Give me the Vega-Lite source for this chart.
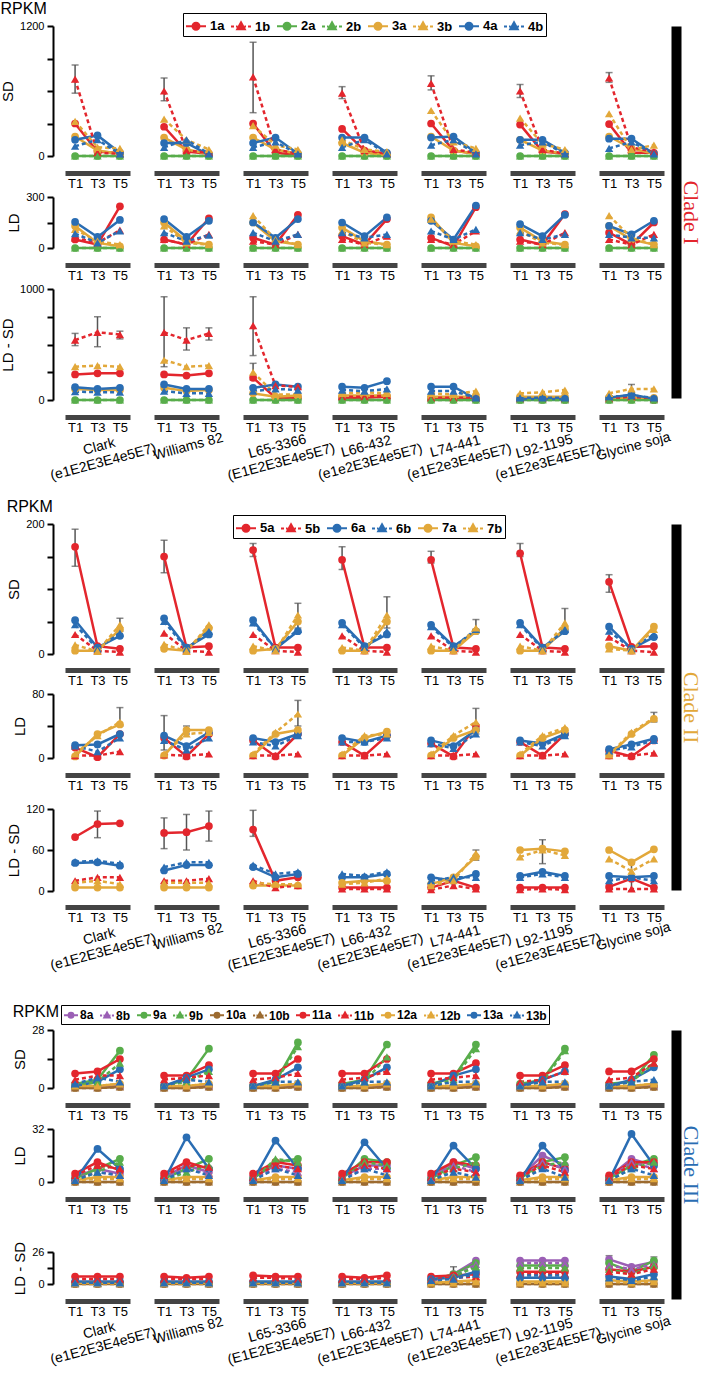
{
"$schema":"https://vega.github.io/schema/vega-lite/v6.json",
"padding":{"top":0,"left":0,"right":0,"bottom":0},
"datasets":{
"c1":[
{"m":"SD","g":1,"s":"1a","T1":300,"T3":40,"T5":30},{"m":"SD","g":1,"s":"1b","T1":710,"T3":30,"T5":20},{"m":"SD","g":1,"s":"2a","T1":0,"T3":0,"T5":0},{"m":"SD","g":1,"s":"2b","T1":0,"T3":0,"T5":0},{"m":"SD","g":1,"s":"3a","T1":180,"T3":50,"T5":20},{"m":"SD","g":1,"s":"3b","T1":320,"T3":80,"T5":70},{"m":"SD","g":1,"s":"4a","T1":150,"T3":190,"T5":30},{"m":"SD","g":1,"s":"4b","T1":90,"T3":150,"T5":20},
{"m":"SD","g":2,"s":"1a","T1":270,"T3":40,"T5":20},{"m":"SD","g":2,"s":"1b","T1":600,"T3":50,"T5":30},{"m":"SD","g":2,"s":"2a","T1":0,"T3":0,"T5":0},{"m":"SD","g":2,"s":"2b","T1":0,"T3":0,"T5":0},{"m":"SD","g":2,"s":"3a","T1":170,"T3":60,"T5":20},{"m":"SD","g":2,"s":"3b","T1":340,"T3":150,"T5":60},{"m":"SD","g":2,"s":"4a","T1":120,"T3":120,"T5":10},{"m":"SD","g":2,"s":"4b","T1":80,"T3":150,"T5":20},
{"m":"SD","g":3,"s":"1a","T1":300,"T3":30,"T5":10},{"m":"SD","g":3,"s":"1b","T1":730,"T3":60,"T5":20},{"m":"SD","g":3,"s":"2a","T1":0,"T3":0,"T5":0},{"m":"SD","g":3,"s":"2b","T1":0,"T3":0,"T5":0},{"m":"SD","g":3,"s":"3a","T1":170,"T3":60,"T5":20},{"m":"SD","g":3,"s":"3b","T1":280,"T3":100,"T5":60},{"m":"SD","g":3,"s":"4a","T1":120,"T3":170,"T5":20},{"m":"SD","g":3,"s":"4b","T1":80,"T3":130,"T5":20},
{"m":"SD","g":4,"s":"1a","T1":250,"T3":50,"T5":20},{"m":"SD","g":4,"s":"1b","T1":580,"T3":50,"T5":20},{"m":"SD","g":4,"s":"2a","T1":0,"T3":0,"T5":0},{"m":"SD","g":4,"s":"2b","T1":0,"T3":0,"T5":0},{"m":"SD","g":4,"s":"3a","T1":120,"T3":30,"T5":10},{"m":"SD","g":4,"s":"3b","T1":150,"T3":60,"T5":40},{"m":"SD","g":4,"s":"4a","T1":170,"T3":170,"T5":30},{"m":"SD","g":4,"s":"4b","T1":80,"T3":150,"T5":20},
{"m":"SD","g":5,"s":"1a","T1":300,"T3":50,"T5":20},{"m":"SD","g":5,"s":"1b","T1":670,"T3":60,"T5":30},{"m":"SD","g":5,"s":"2a","T1":0,"T3":0,"T5":0},{"m":"SD","g":5,"s":"2b","T1":0,"T3":0,"T5":0},{"m":"SD","g":5,"s":"3a","T1":180,"T3":50,"T5":20},{"m":"SD","g":5,"s":"3b","T1":420,"T3":130,"T5":70},{"m":"SD","g":5,"s":"4a","T1":170,"T3":180,"T5":30},{"m":"SD","g":5,"s":"4b","T1":100,"T3":150,"T5":20},
{"m":"SD","g":6,"s":"1a","T1":290,"T3":40,"T5":20},{"m":"SD","g":6,"s":"1b","T1":600,"T3":60,"T5":20},{"m":"SD","g":6,"s":"2a","T1":0,"T3":0,"T5":0},{"m":"SD","g":6,"s":"2b","T1":0,"T3":0,"T5":0},{"m":"SD","g":6,"s":"3a","T1":150,"T3":50,"T5":20},{"m":"SD","g":6,"s":"3b","T1":350,"T3":110,"T5":60},{"m":"SD","g":6,"s":"4a","T1":150,"T3":150,"T5":30},{"m":"SD","g":6,"s":"4b","T1":100,"T3":130,"T5":20},
{"m":"SD","g":7,"s":"1a","T1":295,"T3":30,"T5":30},{"m":"SD","g":7,"s":"1b","T1":720,"T3":80,"T5":40},{"m":"SD","g":7,"s":"2a","T1":0,"T3":0,"T5":0},{"m":"SD","g":7,"s":"2b","T1":0,"T3":0,"T5":0},{"m":"SD","g":7,"s":"3a","T1":180,"T3":70,"T5":20},{"m":"SD","g":7,"s":"3b","T1":390,"T3":60,"T5":100},{"m":"SD","g":7,"s":"4a","T1":160,"T3":160,"T5":20},{"m":"SD","g":7,"s":"4b","T1":70,"T3":130,"T5":20},
{"m":"LD","g":1,"s":"1a","T1":50,"T3":20,"T5":245},{"m":"LD","g":1,"s":"1b","T1":60,"T3":30,"T5":105},{"m":"LD","g":1,"s":"2a","T1":0,"T3":0,"T5":0},{"m":"LD","g":1,"s":"2b","T1":0,"T3":0,"T5":0},{"m":"LD","g":1,"s":"3a","T1":130,"T3":30,"T5":10},{"m":"LD","g":1,"s":"3b","T1":110,"T3":40,"T5":20},{"m":"LD","g":1,"s":"4a","T1":153,"T3":65,"T5":165},{"m":"LD","g":1,"s":"4b","T1":85,"T3":30,"T5":100},
{"m":"LD","g":2,"s":"1a","T1":50,"T3":20,"T5":175},{"m":"LD","g":2,"s":"1b","T1":50,"T3":20,"T5":80},{"m":"LD","g":2,"s":"2a","T1":0,"T3":0,"T5":0},{"m":"LD","g":2,"s":"2b","T1":0,"T3":0,"T5":0},{"m":"LD","g":2,"s":"3a","T1":150,"T3":40,"T5":20},{"m":"LD","g":2,"s":"3b","T1":130,"T3":30,"T5":20},{"m":"LD","g":2,"s":"4a","T1":170,"T3":65,"T5":160},{"m":"LD","g":2,"s":"4b","T1":90,"T3":40,"T5":75},
{"m":"LD","g":3,"s":"1a","T1":60,"T3":20,"T5":195},{"m":"LD","g":3,"s":"1b","T1":40,"T3":20,"T5":80},{"m":"LD","g":3,"s":"2a","T1":0,"T3":0,"T5":0},{"m":"LD","g":3,"s":"2b","T1":0,"T3":0,"T5":0},{"m":"LD","g":3,"s":"3a","T1":150,"T3":40,"T5":20},{"m":"LD","g":3,"s":"3b","T1":190,"T3":50,"T5":20},{"m":"LD","g":3,"s":"4a","T1":150,"T3":60,"T5":170},{"m":"LD","g":3,"s":"4b","T1":90,"T3":40,"T5":80},
{"m":"LD","g":4,"s":"1a","T1":70,"T3":20,"T5":170},{"m":"LD","g":4,"s":"1b","T1":50,"T3":20,"T5":70},{"m":"LD","g":4,"s":"2a","T1":0,"T3":0,"T5":0},{"m":"LD","g":4,"s":"2b","T1":0,"T3":0,"T5":0},{"m":"LD","g":4,"s":"3a","T1":120,"T3":40,"T5":20},{"m":"LD","g":4,"s":"3b","T1":100,"T3":30,"T5":20},{"m":"LD","g":4,"s":"4a","T1":150,"T3":70,"T5":180},{"m":"LD","g":4,"s":"4b","T1":90,"T3":60,"T5":80},
{"m":"LD","g":5,"s":"1a","T1":60,"T3":10,"T5":240},{"m":"LD","g":5,"s":"1b","T1":50,"T3":20,"T5":100},{"m":"LD","g":5,"s":"2a","T1":0,"T3":0,"T5":0},{"m":"LD","g":5,"s":"2b","T1":0,"T3":0,"T5":0},{"m":"LD","g":5,"s":"3a","T1":180,"T3":30,"T5":10},{"m":"LD","g":5,"s":"3b","T1":170,"T3":40,"T5":20},{"m":"LD","g":5,"s":"4a","T1":160,"T3":50,"T5":250},{"m":"LD","g":5,"s":"4b","T1":100,"T3":50,"T5":110},
{"m":"LD","g":6,"s":"1a","T1":50,"T3":20,"T5":200},{"m":"LD","g":6,"s":"1b","T1":40,"T3":20,"T5":90},{"m":"LD","g":6,"s":"2a","T1":0,"T3":0,"T5":0},{"m":"LD","g":6,"s":"2b","T1":0,"T3":0,"T5":0},{"m":"LD","g":6,"s":"3a","T1":120,"T3":40,"T5":20},{"m":"LD","g":6,"s":"3b","T1":100,"T3":30,"T5":20},{"m":"LD","g":6,"s":"4a","T1":140,"T3":70,"T5":195},{"m":"LD","g":6,"s":"4b","T1":90,"T3":50,"T5":80},
{"m":"LD","g":7,"s":"1a","T1":90,"T3":20,"T5":150},{"m":"LD","g":7,"s":"1b","T1":50,"T3":20,"T5":80},{"m":"LD","g":7,"s":"2a","T1":0,"T3":0,"T5":0},{"m":"LD","g":7,"s":"2b","T1":0,"T3":0,"T5":0},{"m":"LD","g":7,"s":"3a","T1":130,"T3":50,"T5":20},{"m":"LD","g":7,"s":"3b","T1":190,"T3":60,"T5":20},{"m":"LD","g":7,"s":"4a","T1":130,"T3":80,"T5":160},{"m":"LD","g":7,"s":"4b","T1":80,"T3":60,"T5":60},
{"m":"LDSD","g":1,"s":"1a","T1":230,"T3":240,"T5":240},{"m":"LDSD","g":1,"s":"1b","T1":540,"T3":610,"T5":590},{"m":"LDSD","g":1,"s":"2a","T1":0,"T3":0,"T5":0},{"m":"LDSD","g":1,"s":"2b","T1":0,"T3":0,"T5":0},{"m":"LDSD","g":1,"s":"3a","T1":100,"T3":90,"T5":90},{"m":"LDSD","g":1,"s":"3b","T1":300,"T3":310,"T5":300},{"m":"LDSD","g":1,"s":"4a","T1":115,"T3":100,"T5":110},{"m":"LDSD","g":1,"s":"4b","T1":75,"T3":70,"T5":70},
{"m":"LDSD","g":2,"s":"1a","T1":230,"T3":220,"T5":240},{"m":"LDSD","g":2,"s":"1b","T1":610,"T3":540,"T5":600},{"m":"LDSD","g":2,"s":"2a","T1":0,"T3":0,"T5":0},{"m":"LDSD","g":2,"s":"2b","T1":0,"T3":0,"T5":0},{"m":"LDSD","g":2,"s":"3a","T1":110,"T3":80,"T5":90},{"m":"LDSD","g":2,"s":"3b","T1":360,"T3":300,"T5":310},{"m":"LDSD","g":2,"s":"4a","T1":140,"T3":100,"T5":100},{"m":"LDSD","g":2,"s":"4b","T1":80,"T3":60,"T5":60},
{"m":"LDSD","g":3,"s":"1a","T1":200,"T3":20,"T5":20},{"m":"LDSD","g":3,"s":"1b","T1":670,"T3":130,"T5":120},{"m":"LDSD","g":3,"s":"2a","T1":0,"T3":0,"T5":0},{"m":"LDSD","g":3,"s":"2b","T1":0,"T3":0,"T5":0},{"m":"LDSD","g":3,"s":"3a","T1":60,"T3":30,"T5":40},{"m":"LDSD","g":3,"s":"3b","T1":250,"T3":50,"T5":50},{"m":"LDSD","g":3,"s":"4a","T1":110,"T3":140,"T5":120},{"m":"LDSD","g":3,"s":"4b","T1":80,"T3":100,"T5":90},
{"m":"LDSD","g":4,"s":"1a","T1":20,"T3":20,"T5":30},{"m":"LDSD","g":4,"s":"1b","T1":30,"T3":30,"T5":40},{"m":"LDSD","g":4,"s":"2a","T1":0,"T3":0,"T5":0},{"m":"LDSD","g":4,"s":"2b","T1":0,"T3":0,"T5":0},{"m":"LDSD","g":4,"s":"3a","T1":40,"T3":40,"T5":40},{"m":"LDSD","g":4,"s":"3b","T1":60,"T3":70,"T5":60},{"m":"LDSD","g":4,"s":"4a","T1":120,"T3":110,"T5":170},{"m":"LDSD","g":4,"s":"4b","T1":90,"T3":80,"T5":100},
{"m":"LDSD","g":5,"s":"1a","T1":10,"T3":10,"T5":10},{"m":"LDSD","g":5,"s":"1b","T1":20,"T3":20,"T5":20},{"m":"LDSD","g":5,"s":"2a","T1":0,"T3":0,"T5":0},{"m":"LDSD","g":5,"s":"2b","T1":0,"T3":0,"T5":0},{"m":"LDSD","g":5,"s":"3a","T1":30,"T3":30,"T5":30},{"m":"LDSD","g":5,"s":"3b","T1":60,"T3":50,"T5":80},{"m":"LDSD","g":5,"s":"4a","T1":120,"T3":120,"T5":10},{"m":"LDSD","g":5,"s":"4b","T1":80,"T3":80,"T5":20},
{"m":"LDSD","g":6,"s":"1a","T1":5,"T3":5,"T5":5},{"m":"LDSD","g":6,"s":"1b","T1":10,"T3":10,"T5":10},{"m":"LDSD","g":6,"s":"2a","T1":0,"T3":0,"T5":0},{"m":"LDSD","g":6,"s":"2b","T1":0,"T3":0,"T5":0},{"m":"LDSD","g":6,"s":"3a","T1":30,"T3":30,"T5":30},{"m":"LDSD","g":6,"s":"3b","T1":60,"T3":70,"T5":90},{"m":"LDSD","g":6,"s":"4a","T1":10,"T3":10,"T5":10},{"m":"LDSD","g":6,"s":"4b","T1":20,"T3":20,"T5":20},
{"m":"LDSD","g":7,"s":"1a","T1":10,"T3":20,"T5":0},{"m":"LDSD","g":7,"s":"1b","T1":10,"T3":30,"T5":10},{"m":"LDSD","g":7,"s":"2a","T1":0,"T3":0,"T5":0},{"m":"LDSD","g":7,"s":"2b","T1":0,"T3":0,"T5":0},{"m":"LDSD","g":7,"s":"3a","T1":20,"T3":20,"T5":20},{"m":"LDSD","g":7,"s":"3b","T1":60,"T3":100,"T5":100},{"m":"LDSD","g":7,"s":"4a","T1":20,"T3":50,"T5":10},{"m":"LDSD","g":7,"s":"4b","T1":30,"T3":40,"T5":20},
{"m":"SD","g":1,"s":"1b","t":"T1","v":580,"hi":840},{"m":"SD","g":2,"s":"1b","t":"T1","v":510,"hi":720},{"m":"SD","g":3,"s":"1b","t":"T1","v":400,"hi":1050},{"m":"SD","g":4,"s":"1b","t":"T1","v":530,"hi":640},{"m":"SD","g":5,"s":"1b","t":"T1","v":610,"hi":740},{"m":"SD","g":6,"s":"1b","t":"T1","v":540,"hi":660},{"m":"SD","g":7,"s":"1b","t":"T1","v":680,"hi":770},
{"m":"LDSD","g":1,"s":"1b","t":"T1","v":490,"hi":600},{"m":"LDSD","g":1,"s":"1b","t":"T3","v":480,"hi":750},{"m":"LDSD","g":1,"s":"1b","t":"T5","v":550,"hi":620},{"m":"LDSD","g":2,"s":"1b","t":"T1","v":300,"hi":930},{"m":"LDSD","g":2,"s":"1b","t":"T3","v":450,"hi":650},{"m":"LDSD","g":2,"s":"1b","t":"T5","v":540,"hi":650},{"m":"LDSD","g":3,"s":"1b","t":"T1","v":400,"hi":930},{"m":"LDSD","g":3,"s":"3b","t":"T1","v":180,"hi":330},{"m":"LDSD","g":7,"s":"3b","t":"T3","v":60,"hi":140}
],
"c2":[
{"m":"SD","g":1,"s":"5a","T1":165,"T3":12,"T5":8},{"m":"SD","g":1,"s":"5b","T1":30,"T3":5,"T5":3},{"m":"SD","g":1,"s":"6a","T1":52,"T3":10,"T5":28},{"m":"SD","g":1,"s":"6b","T1":45,"T3":8,"T5":32},{"m":"SD","g":1,"s":"7a","T1":5,"T3":5,"T5":38},{"m":"SD","g":1,"s":"7b","T1":14,"T3":4,"T5":45},
{"m":"SD","g":2,"s":"5a","T1":150,"T3":10,"T5":12},{"m":"SD","g":2,"s":"5b","T1":32,"T3":5,"T5":3},{"m":"SD","g":2,"s":"6a","T1":55,"T3":10,"T5":30},{"m":"SD","g":2,"s":"6b","T1":50,"T3":8,"T5":35},{"m":"SD","g":2,"s":"7a","T1":8,"T3":5,"T5":40},{"m":"SD","g":2,"s":"7b","T1":15,"T3":4,"T5":45},
{"m":"SD","g":3,"s":"5a","T1":160,"T3":10,"T5":10},{"m":"SD","g":3,"s":"5b","T1":30,"T3":5,"T5":3},{"m":"SD","g":3,"s":"6a","T1":52,"T3":8,"T5":35},{"m":"SD","g":3,"s":"6b","T1":48,"T3":8,"T5":38},{"m":"SD","g":3,"s":"7a","T1":5,"T3":8,"T5":50},{"m":"SD","g":3,"s":"7b","T1":12,"T3":5,"T5":60},
{"m":"SD","g":4,"s":"5a","T1":145,"T3":10,"T5":10},{"m":"SD","g":4,"s":"5b","T1":28,"T3":5,"T5":3},{"m":"SD","g":4,"s":"6a","T1":48,"T3":12,"T5":30},{"m":"SD","g":4,"s":"6b","T1":45,"T3":10,"T5":35},{"m":"SD","g":4,"s":"7a","T1":5,"T3":5,"T5":50},{"m":"SD","g":4,"s":"7b","T1":10,"T3":5,"T5":60},
{"m":"SD","g":5,"s":"5a","T1":145,"T3":10,"T5":8},{"m":"SD","g":5,"s":"5b","T1":28,"T3":5,"T5":3},{"m":"SD","g":5,"s":"6a","T1":45,"T3":12,"T5":35},{"m":"SD","g":5,"s":"6b","T1":42,"T3":10,"T5":38},{"m":"SD","g":5,"s":"7a","T1":5,"T3":5,"T5":35},{"m":"SD","g":5,"s":"7b","T1":12,"T3":5,"T5":40},
{"m":"SD","g":6,"s":"5a","T1":155,"T3":10,"T5":8},{"m":"SD","g":6,"s":"5b","T1":30,"T3":5,"T5":3},{"m":"SD","g":6,"s":"6a","T1":48,"T3":10,"T5":35},{"m":"SD","g":6,"s":"6b","T1":45,"T3":8,"T5":38},{"m":"SD","g":6,"s":"7a","T1":5,"T3":5,"T5":40},{"m":"SD","g":6,"s":"7b","T1":12,"T3":5,"T5":48},
{"m":"SD","g":7,"s":"5a","T1":111,"T3":11,"T5":12},{"m":"SD","g":7,"s":"5b","T1":26,"T3":5,"T5":3},{"m":"SD","g":7,"s":"6a","T1":42,"T3":8,"T5":26},{"m":"SD","g":7,"s":"6b","T1":35,"T3":8,"T5":30},{"m":"SD","g":7,"s":"7a","T1":12,"T3":5,"T5":42},{"m":"SD","g":7,"s":"7b","T1":8,"T3":5,"T5":38},
{"m":"LD","g":1,"s":"5a","T1":13,"T3":1,"T5":30},{"m":"LD","g":1,"s":"5b","T1":3,"T3":3,"T5":8},{"m":"LD","g":1,"s":"6a","T1":16,"T3":17,"T5":30},{"m":"LD","g":1,"s":"6b","T1":15,"T3":8,"T5":25},{"m":"LD","g":1,"s":"7a","T1":2,"T3":30,"T5":42},{"m":"LD","g":1,"s":"7b","T1":5,"T3":28,"T5":45},
{"m":"LD","g":2,"s":"5a","T1":25,"T3":2,"T5":30},{"m":"LD","g":2,"s":"5b","T1":4,"T3":3,"T5":5},{"m":"LD","g":2,"s":"6a","T1":28,"T3":15,"T5":32},{"m":"LD","g":2,"s":"6b","T1":22,"T3":10,"T5":25},{"m":"LD","g":2,"s":"7a","T1":3,"T3":35,"T5":35},{"m":"LD","g":2,"s":"7b","T1":5,"T3":30,"T5":32},
{"m":"LD","g":3,"s":"5a","T1":22,"T3":2,"T5":30},{"m":"LD","g":3,"s":"5b","T1":3,"T3":3,"T5":5},{"m":"LD","g":3,"s":"6a","T1":25,"T3":20,"T5":30},{"m":"LD","g":3,"s":"6b","T1":20,"T3":15,"T5":28},{"m":"LD","g":3,"s":"7a","T1":3,"T3":30,"T5":35},{"m":"LD","g":3,"s":"7b","T1":5,"T3":32,"T5":55},
{"m":"LD","g":4,"s":"5a","T1":20,"T3":3,"T5":28},{"m":"LD","g":4,"s":"5b","T1":3,"T3":3,"T5":5},{"m":"LD","g":4,"s":"6a","T1":25,"T3":20,"T5":28},{"m":"LD","g":4,"s":"6b","T1":20,"T3":20,"T5":25},{"m":"LD","g":4,"s":"7a","T1":3,"T3":25,"T5":33},{"m":"LD","g":4,"s":"7b","T1":5,"T3":28,"T5":30},
{"m":"LD","g":5,"s":"5a","T1":18,"T3":2,"T5":40},{"m":"LD","g":5,"s":"5b","T1":3,"T3":3,"T5":5},{"m":"LD","g":5,"s":"6a","T1":22,"T3":15,"T5":35},{"m":"LD","g":5,"s":"6b","T1":18,"T3":12,"T5":30},{"m":"LD","g":5,"s":"7a","T1":3,"T3":25,"T5":35},{"m":"LD","g":5,"s":"7b","T1":5,"T3":28,"T5":45},
{"m":"LD","g":6,"s":"5a","T1":20,"T3":3,"T5":30},{"m":"LD","g":6,"s":"5b","T1":3,"T3":3,"T5":5},{"m":"LD","g":6,"s":"6a","T1":22,"T3":18,"T5":30},{"m":"LD","g":6,"s":"6b","T1":20,"T3":15,"T5":28},{"m":"LD","g":6,"s":"7a","T1":3,"T3":25,"T5":35},{"m":"LD","g":6,"s":"7b","T1":5,"T3":28,"T5":38},
{"m":"LD","g":7,"s":"5a","T1":9,"T3":2,"T5":22},{"m":"LD","g":7,"s":"5b","T1":3,"T3":3,"T5":6},{"m":"LD","g":7,"s":"6a","T1":11,"T3":17,"T5":24},{"m":"LD","g":7,"s":"6b","T1":9,"T3":14,"T5":22},{"m":"LD","g":7,"s":"7a","T1":3,"T3":30,"T5":49},{"m":"LD","g":7,"s":"7b","T1":4,"T3":32,"T5":50},
{"m":"LDSD","g":1,"s":"5a","T1":79,"T3":98,"T5":99},{"m":"LDSD","g":1,"s":"5b","T1":15,"T3":20,"T5":20},{"m":"LDSD","g":1,"s":"6a","T1":41,"T3":42,"T5":37},{"m":"LDSD","g":1,"s":"6b","T1":43,"T3":44,"T5":40},{"m":"LDSD","g":1,"s":"7a","T1":5,"T3":5,"T5":5},{"m":"LDSD","g":1,"s":"7b","T1":12,"T3":15,"T5":10},
{"m":"LDSD","g":2,"s":"5a","T1":85,"T3":86,"T5":95},{"m":"LDSD","g":2,"s":"5b","T1":15,"T3":15,"T5":18},{"m":"LDSD","g":2,"s":"6a","T1":30,"T3":38,"T5":38},{"m":"LDSD","g":2,"s":"6b","T1":35,"T3":42,"T5":42},{"m":"LDSD","g":2,"s":"7a","T1":5,"T3":5,"T5":5},{"m":"LDSD","g":2,"s":"7b","T1":12,"T3":12,"T5":12},
{"m":"LDSD","g":3,"s":"5a","T1":90,"T3":15,"T5":20},{"m":"LDSD","g":3,"s":"5b","T1":15,"T3":5,"T5":8},{"m":"LDSD","g":3,"s":"6a","T1":35,"T3":20,"T5":25},{"m":"LDSD","g":3,"s":"6b","T1":38,"T3":25,"T5":28},{"m":"LDSD","g":3,"s":"7a","T1":8,"T3":8,"T5":8},{"m":"LDSD","g":3,"s":"7b","T1":12,"T3":10,"T5":10},
{"m":"LDSD","g":4,"s":"5a","T1":5,"T3":5,"T5":5},{"m":"LDSD","g":4,"s":"5b","T1":3,"T3":3,"T5":3},{"m":"LDSD","g":4,"s":"6a","T1":20,"T3":20,"T5":25},{"m":"LDSD","g":4,"s":"6b","T1":25,"T3":22,"T5":28},{"m":"LDSD","g":4,"s":"7a","T1":12,"T3":15,"T5":15},{"m":"LDSD","g":4,"s":"7b","T1":10,"T3":12,"T5":18},
{"m":"LDSD","g":5,"s":"5a","T1":5,"T3":15,"T5":5},{"m":"LDSD","g":5,"s":"5b","T1":2,"T3":8,"T5":3},{"m":"LDSD","g":5,"s":"6a","T1":20,"T3":15,"T5":25},{"m":"LDSD","g":5,"s":"6b","T1":15,"T3":20,"T5":20},{"m":"LDSD","g":5,"s":"7a","T1":10,"T3":20,"T5":50},{"m":"LDSD","g":5,"s":"7b","T1":8,"T3":15,"T5":55},
{"m":"LDSD","g":6,"s":"5a","T1":5,"T3":5,"T5":5},{"m":"LDSD","g":6,"s":"5b","T1":2,"T3":3,"T5":2},{"m":"LDSD","g":6,"s":"6a","T1":22,"T3":28,"T5":22},{"m":"LDSD","g":6,"s":"6b","T1":20,"T3":25,"T5":20},{"m":"LDSD","g":6,"s":"7a","T1":60,"T3":62,"T5":58},{"m":"LDSD","g":6,"s":"7b","T1":50,"T3":60,"T5":52},
{"m":"LDSD","g":7,"s":"5a","T1":6,"T3":18,"T5":5},{"m":"LDSD","g":7,"s":"5b","T1":3,"T3":3,"T5":3},{"m":"LDSD","g":7,"s":"6a","T1":22,"T3":20,"T5":22},{"m":"LDSD","g":7,"s":"6b","T1":15,"T3":20,"T5":15},{"m":"LDSD","g":7,"s":"7a","T1":60,"T3":42,"T5":61},{"m":"LDSD","g":7,"s":"7b","T1":47,"T3":29,"T5":47},
{"m":"SD","g":1,"s":"5a","t":"T1","v":135,"hi":192},{"m":"SD","g":2,"s":"5a","t":"T1","v":125,"hi":175},{"m":"SD","g":3,"s":"5a","t":"T1","v":150,"hi":170},{"m":"SD","g":4,"s":"5a","t":"T1","v":130,"hi":165},{"m":"SD","g":5,"s":"5a","t":"T1","v":140,"hi":158},{"m":"SD","g":6,"s":"5a","t":"T1","v":150,"hi":170},{"m":"SD","g":7,"s":"5a","t":"T1","v":95,"hi":122},
{"m":"SD","g":1,"s":"7b","t":"T5","v":35,"hi":55},{"m":"SD","g":3,"s":"7b","t":"T5","v":40,"hi":78},{"m":"SD","g":4,"s":"7b","t":"T5","v":40,"hi":88},{"m":"SD","g":5,"s":"7b","t":"T5","v":38,"hi":53},{"m":"SD","g":6,"s":"7b","t":"T5","v":38,"hi":70},
{"m":"LD","g":1,"s":"7b","t":"T5","v":40,"hi":63},{"m":"LD","g":2,"s":"6a","t":"T1","v":10,"hi":53},{"m":"LD","g":2,"s":"7b","t":"T3","v":30,"hi":40},{"m":"LD","g":3,"s":"7b","t":"T5","v":40,"hi":72},{"m":"LD","g":5,"s":"7b","t":"T5","v":30,"hi":62},{"m":"LD","g":7,"s":"7b","t":"T5","v":45,"hi":57},
{"m":"LDSD","g":1,"s":"5a","t":"T3","v":78,"hi":117},{"m":"LDSD","g":2,"s":"5a","t":"T1","v":62,"hi":107},{"m":"LDSD","g":2,"s":"5a","t":"T3","v":60,"hi":112},{"m":"LDSD","g":2,"s":"5a","t":"T5","v":73,"hi":117},{"m":"LDSD","g":3,"s":"5a","t":"T1","v":80,"hi":118},{"m":"LDSD","g":6,"s":"7b","t":"T3","v":40,"hi":75},{"m":"LDSD","g":7,"s":"7b","t":"T3","v":0,"hi":40},{"m":"LDSD","g":5,"s":"7a","t":"T5","v":45,"hi":60}
],
"c3":[
{"m":"SD","g":1,"s":"8a","T1":0.5,"T3":0.5,"T5":1},{"m":"SD","g":1,"s":"8b","T1":0.5,"T3":0.5,"T5":1},{"m":"SD","g":1,"s":"9a","T1":2,"T3":4,"T5":18},{"m":"SD","g":1,"s":"9b","T1":1,"T3":3,"T5":12},{"m":"SD","g":1,"s":"10a","T1":0,"T3":0,"T5":0.5},{"m":"SD","g":1,"s":"10b","T1":0,"T3":0,"T5":0.5},{"m":"SD","g":1,"s":"11a","T1":7,"T3":8,"T5":14},{"m":"SD","g":1,"s":"11b","T1":4,"T3":6,"T5":6},{"m":"SD","g":1,"s":"12a","T1":1,"T3":1,"T5":2},{"m":"SD","g":1,"s":"12b","T1":1,"T3":1,"T5":2},{"m":"SD","g":1,"s":"13a","T1":1,"T3":3,"T5":9},{"m":"SD","g":1,"s":"13b","T1":2,"T3":5,"T5":3},
{"m":"SD","g":2,"s":"8a","T1":0.5,"T3":0.5,"T5":1},{"m":"SD","g":2,"s":"8b","T1":0.5,"T3":0.5,"T5":1},{"m":"SD","g":2,"s":"9a","T1":1,"T3":4,"T5":19},{"m":"SD","g":2,"s":"9b","T1":1,"T3":3,"T5":8},{"m":"SD","g":2,"s":"10a","T1":0,"T3":0,"T5":0.5},{"m":"SD","g":2,"s":"10b","T1":0,"T3":0,"T5":0.5},{"m":"SD","g":2,"s":"11a","T1":6,"T3":6,"T5":11},{"m":"SD","g":2,"s":"11b","T1":4,"T3":5,"T5":6},{"m":"SD","g":2,"s":"12a","T1":1,"T3":1,"T5":2},{"m":"SD","g":2,"s":"12b","T1":1,"T3":1,"T5":2},{"m":"SD","g":2,"s":"13a","T1":1,"T3":5,"T5":9},{"m":"SD","g":2,"s":"13b","T1":1,"T3":4,"T5":3},
{"m":"SD","g":3,"s":"8a","T1":0.5,"T3":0.5,"T5":1},{"m":"SD","g":3,"s":"8b","T1":0.5,"T3":0.5,"T5":1},{"m":"SD","g":3,"s":"9a","T1":1,"T3":3,"T5":22},{"m":"SD","g":3,"s":"9b","T1":1,"T3":3,"T5":20},{"m":"SD","g":3,"s":"10a","T1":0,"T3":0,"T5":0.5},{"m":"SD","g":3,"s":"10b","T1":0,"T3":0,"T5":0.5},{"m":"SD","g":3,"s":"11a","T1":7,"T3":7,"T5":14},{"m":"SD","g":3,"s":"11b","T1":4,"T3":5,"T5":7},{"m":"SD","g":3,"s":"12a","T1":1,"T3":1,"T5":2},{"m":"SD","g":3,"s":"12b","T1":1,"T3":1,"T5":2},{"m":"SD","g":3,"s":"13a","T1":1,"T3":4,"T5":10},{"m":"SD","g":3,"s":"13b","T1":1,"T3":3,"T5":3},
{"m":"SD","g":4,"s":"8a","T1":0.5,"T3":0.5,"T5":1},{"m":"SD","g":4,"s":"8b","T1":0.5,"T3":0.5,"T5":1},{"m":"SD","g":4,"s":"9a","T1":2,"T3":4,"T5":21},{"m":"SD","g":4,"s":"9b","T1":1,"T3":3,"T5":15},{"m":"SD","g":4,"s":"10a","T1":0,"T3":0,"T5":0.5},{"m":"SD","g":4,"s":"10b","T1":0,"T3":0,"T5":0.5},{"m":"SD","g":4,"s":"11a","T1":7,"T3":7,"T5":14},{"m":"SD","g":4,"s":"11b","T1":4,"T3":5,"T5":8},{"m":"SD","g":4,"s":"12a","T1":1,"T3":1,"T5":2},{"m":"SD","g":4,"s":"12b","T1":1,"T3":1,"T5":2},{"m":"SD","g":4,"s":"13a","T1":1,"T3":4,"T5":10},{"m":"SD","g":4,"s":"13b","T1":1,"T3":3,"T5":3},
{"m":"SD","g":5,"s":"8a","T1":0.5,"T3":0.5,"T5":1},{"m":"SD","g":5,"s":"8b","T1":0.5,"T3":0.5,"T5":1},{"m":"SD","g":5,"s":"9a","T1":2,"T3":5,"T5":21},{"m":"SD","g":5,"s":"9b","T1":1,"T3":4,"T5":19},{"m":"SD","g":5,"s":"10a","T1":0,"T3":0,"T5":0.5},{"m":"SD","g":5,"s":"10b","T1":0,"T3":0,"T5":0.5},{"m":"SD","g":5,"s":"11a","T1":7,"T3":7,"T5":12},{"m":"SD","g":5,"s":"11b","T1":4,"T3":5,"T5":6},{"m":"SD","g":5,"s":"12a","T1":1,"T3":1,"T5":2},{"m":"SD","g":5,"s":"12b","T1":1,"T3":1,"T5":2},{"m":"SD","g":5,"s":"13a","T1":1,"T3":6,"T5":9},{"m":"SD","g":5,"s":"13b","T1":1,"T3":3,"T5":3},
{"m":"SD","g":6,"s":"8a","T1":0.5,"T3":0.5,"T5":1},{"m":"SD","g":6,"s":"8b","T1":0.5,"T3":0.5,"T5":1},{"m":"SD","g":6,"s":"9a","T1":2,"T3":4,"T5":19},{"m":"SD","g":6,"s":"9b","T1":1,"T3":3,"T5":18},{"m":"SD","g":6,"s":"10a","T1":0,"T3":0,"T5":0.5},{"m":"SD","g":6,"s":"10b","T1":0,"T3":0,"T5":0.5},{"m":"SD","g":6,"s":"11a","T1":6,"T3":6,"T5":11},{"m":"SD","g":6,"s":"11b","T1":3,"T3":4,"T5":8},{"m":"SD","g":6,"s":"12a","T1":1,"T3":1,"T5":2},{"m":"SD","g":6,"s":"12b","T1":1,"T3":1,"T5":2},{"m":"SD","g":6,"s":"13a","T1":1,"T3":4,"T5":8},{"m":"SD","g":6,"s":"13b","T1":1,"T3":3,"T5":3},
{"m":"SD","g":7,"s":"8a","T1":0.5,"T3":0.5,"T5":1},{"m":"SD","g":7,"s":"8b","T1":0.5,"T3":0.5,"T5":1},{"m":"SD","g":7,"s":"9a","T1":2,"T3":3,"T5":16},{"m":"SD","g":7,"s":"9b","T1":1,"T3":3,"T5":12},{"m":"SD","g":7,"s":"10a","T1":0,"T3":0,"T5":0.5},{"m":"SD","g":7,"s":"10b","T1":0,"T3":0,"T5":0.5},{"m":"SD","g":7,"s":"11a","T1":8,"T3":8,"T5":14},{"m":"SD","g":7,"s":"11b","T1":4,"T3":5,"T5":12},{"m":"SD","g":7,"s":"12a","T1":1,"T3":1,"T5":2},{"m":"SD","g":7,"s":"12b","T1":1,"T3":1,"T5":2},{"m":"SD","g":7,"s":"13a","T1":1,"T3":4,"T5":10},{"m":"SD","g":7,"s":"13b","T1":1,"T3":3,"T5":4},
{"m":"LD","g":1,"s":"8a","T1":3,"T3":8,"T5":5},{"m":"LD","g":1,"s":"8b","T1":2,"T3":6,"T5":4},{"m":"LD","g":1,"s":"9a","T1":2,"T3":8,"T5":14},{"m":"LD","g":1,"s":"9b","T1":1,"T3":6,"T5":12},{"m":"LD","g":1,"s":"10a","T1":0,"T3":0,"T5":0},{"m":"LD","g":1,"s":"10b","T1":0,"T3":0,"T5":0},{"m":"LD","g":1,"s":"11a","T1":5,"T3":12,"T5":7},{"m":"LD","g":1,"s":"11b","T1":4,"T3":10,"T5":8},{"m":"LD","g":1,"s":"12a","T1":1,"T3":3,"T5":3},{"m":"LD","g":1,"s":"12b","T1":1,"T3":2,"T5":2},{"m":"LD","g":1,"s":"13a","T1":1,"T3":20,"T5":8},{"m":"LD","g":1,"s":"13b","T1":1,"T3":6,"T5":4},
{"m":"LD","g":2,"s":"8a","T1":3,"T3":10,"T5":6},{"m":"LD","g":2,"s":"8b","T1":2,"T3":8,"T5":5},{"m":"LD","g":2,"s":"9a","T1":2,"T3":8,"T5":14},{"m":"LD","g":2,"s":"9b","T1":1,"T3":6,"T5":10},{"m":"LD","g":2,"s":"10a","T1":0,"T3":0,"T5":0},{"m":"LD","g":2,"s":"10b","T1":0,"T3":0,"T5":0},{"m":"LD","g":2,"s":"11a","T1":5,"T3":12,"T5":8},{"m":"LD","g":2,"s":"11b","T1":4,"T3":10,"T5":9},{"m":"LD","g":2,"s":"12a","T1":1,"T3":3,"T5":3},{"m":"LD","g":2,"s":"12b","T1":1,"T3":2,"T5":2},{"m":"LD","g":2,"s":"13a","T1":1,"T3":27,"T5":8},{"m":"LD","g":2,"s":"13b","T1":1,"T3":8,"T5":4},
{"m":"LD","g":3,"s":"8a","T1":3,"T3":10,"T5":8},{"m":"LD","g":3,"s":"8b","T1":2,"T3":8,"T5":6},{"m":"LD","g":3,"s":"9a","T1":2,"T3":12,"T5":14},{"m":"LD","g":3,"s":"9b","T1":1,"T3":14,"T5":12},{"m":"LD","g":3,"s":"10a","T1":0,"T3":0,"T5":0},{"m":"LD","g":3,"s":"10b","T1":0,"T3":0,"T5":0},{"m":"LD","g":3,"s":"11a","T1":5,"T3":12,"T5":10},{"m":"LD","g":3,"s":"11b","T1":3,"T3":10,"T5":8},{"m":"LD","g":3,"s":"12a","T1":1,"T3":3,"T5":3},{"m":"LD","g":3,"s":"12b","T1":1,"T3":2,"T5":2},{"m":"LD","g":3,"s":"13a","T1":1,"T3":25,"T5":8},{"m":"LD","g":3,"s":"13b","T1":1,"T3":8,"T5":4},
{"m":"LD","g":4,"s":"8a","T1":3,"T3":10,"T5":10},{"m":"LD","g":4,"s":"8b","T1":2,"T3":8,"T5":8},{"m":"LD","g":4,"s":"9a","T1":2,"T3":14,"T5":12},{"m":"LD","g":4,"s":"9b","T1":2,"T3":12,"T5":10},{"m":"LD","g":4,"s":"10a","T1":0,"T3":0,"T5":0},{"m":"LD","g":4,"s":"10b","T1":0,"T3":0,"T5":0},{"m":"LD","g":4,"s":"11a","T1":5,"T3":12,"T5":12},{"m":"LD","g":4,"s":"11b","T1":3,"T3":10,"T5":8},{"m":"LD","g":4,"s":"12a","T1":1,"T3":3,"T5":3},{"m":"LD","g":4,"s":"12b","T1":1,"T3":2,"T5":2},{"m":"LD","g":4,"s":"13a","T1":1,"T3":24,"T5":8},{"m":"LD","g":4,"s":"13b","T1":1,"T3":8,"T5":4},
{"m":"LD","g":5,"s":"8a","T1":3,"T3":12,"T5":8},{"m":"LD","g":5,"s":"8b","T1":2,"T3":10,"T5":6},{"m":"LD","g":5,"s":"9a","T1":2,"T3":10,"T5":15},{"m":"LD","g":5,"s":"9b","T1":1,"T3":8,"T5":12},{"m":"LD","g":5,"s":"10a","T1":0,"T3":0,"T5":0},{"m":"LD","g":5,"s":"10b","T1":0,"T3":0,"T5":0},{"m":"LD","g":5,"s":"11a","T1":5,"T3":12,"T5":10},{"m":"LD","g":5,"s":"11b","T1":3,"T3":8,"T5":6},{"m":"LD","g":5,"s":"12a","T1":1,"T3":3,"T5":3},{"m":"LD","g":5,"s":"12b","T1":1,"T3":2,"T5":2},{"m":"LD","g":5,"s":"13a","T1":1,"T3":22,"T5":8},{"m":"LD","g":5,"s":"13b","T1":1,"T3":6,"T5":3},
{"m":"LD","g":6,"s":"8a","T1":3,"T3":16,"T5":10},{"m":"LD","g":6,"s":"8b","T1":2,"T3":12,"T5":8},{"m":"LD","g":6,"s":"9a","T1":2,"T3":12,"T5":15},{"m":"LD","g":6,"s":"9b","T1":1,"T3":10,"T5":12},{"m":"LD","g":6,"s":"10a","T1":0,"T3":0,"T5":0},{"m":"LD","g":6,"s":"10b","T1":0,"T3":0,"T5":0},{"m":"LD","g":6,"s":"11a","T1":4,"T3":12,"T5":8},{"m":"LD","g":6,"s":"11b","T1":3,"T3":10,"T5":6},{"m":"LD","g":6,"s":"12a","T1":1,"T3":3,"T5":3},{"m":"LD","g":6,"s":"12b","T1":1,"T3":2,"T5":2},{"m":"LD","g":6,"s":"13a","T1":1,"T3":22,"T5":7},{"m":"LD","g":6,"s":"13b","T1":1,"T3":8,"T5":3},
{"m":"LD","g":7,"s":"8a","T1":3,"T3":14,"T5":10},{"m":"LD","g":7,"s":"8b","T1":2,"T3":12,"T5":8},{"m":"LD","g":7,"s":"9a","T1":2,"T3":10,"T5":14},{"m":"LD","g":7,"s":"9b","T1":1,"T3":8,"T5":12},{"m":"LD","g":7,"s":"10a","T1":0,"T3":0,"T5":0},{"m":"LD","g":7,"s":"10b","T1":0,"T3":0,"T5":0},{"m":"LD","g":7,"s":"11a","T1":4,"T3":12,"T5":12},{"m":"LD","g":7,"s":"11b","T1":3,"T3":10,"T5":8},{"m":"LD","g":7,"s":"12a","T1":1,"T3":3,"T5":3},{"m":"LD","g":7,"s":"12b","T1":1,"T3":2,"T5":2},{"m":"LD","g":7,"s":"13a","T1":1,"T3":29,"T5":10},{"m":"LD","g":7,"s":"13b","T1":1,"T3":8,"T5":4},
{"m":"LDSD","g":1,"s":"8a","T1":1,"T3":1,"T5":1},{"m":"LDSD","g":1,"s":"8b","T1":1,"T3":1,"T5":1},{"m":"LDSD","g":1,"s":"9a","T1":1,"T3":1,"T5":1},{"m":"LDSD","g":1,"s":"9b","T1":1,"T3":1,"T5":1},{"m":"LDSD","g":1,"s":"10a","T1":0,"T3":0,"T5":0},{"m":"LDSD","g":1,"s":"10b","T1":0,"T3":0,"T5":0},{"m":"LDSD","g":1,"s":"11a","T1":6,"T3":6,"T5":6},{"m":"LDSD","g":1,"s":"11b","T1":4,"T3":4,"T5":4},{"m":"LDSD","g":1,"s":"12a","T1":1,"T3":1,"T5":1},{"m":"LDSD","g":1,"s":"12b","T1":0.5,"T3":0.5,"T5":0.5},{"m":"LDSD","g":1,"s":"13a","T1":2,"T3":2,"T5":2},{"m":"LDSD","g":1,"s":"13b","T1":1,"T3":1,"T5":1},
{"m":"LDSD","g":2,"s":"8a","T1":1,"T3":1,"T5":1},{"m":"LDSD","g":2,"s":"8b","T1":1,"T3":1,"T5":1},{"m":"LDSD","g":2,"s":"9a","T1":1,"T3":1,"T5":1},{"m":"LDSD","g":2,"s":"9b","T1":1,"T3":1,"T5":1},{"m":"LDSD","g":2,"s":"10a","T1":0,"T3":0,"T5":0},{"m":"LDSD","g":2,"s":"10b","T1":0,"T3":0,"T5":0},{"m":"LDSD","g":2,"s":"11a","T1":6,"T3":5,"T5":6},{"m":"LDSD","g":2,"s":"11b","T1":4,"T3":4,"T5":4},{"m":"LDSD","g":2,"s":"12a","T1":1,"T3":1,"T5":1},{"m":"LDSD","g":2,"s":"12b","T1":0.5,"T3":0.5,"T5":0.5},{"m":"LDSD","g":2,"s":"13a","T1":2,"T3":2,"T5":2},{"m":"LDSD","g":2,"s":"13b","T1":1,"T3":1,"T5":1},
{"m":"LDSD","g":3,"s":"8a","T1":1,"T3":1,"T5":1},{"m":"LDSD","g":3,"s":"8b","T1":1,"T3":1,"T5":1},{"m":"LDSD","g":3,"s":"9a","T1":1,"T3":1,"T5":1},{"m":"LDSD","g":3,"s":"9b","T1":1,"T3":1,"T5":1},{"m":"LDSD","g":3,"s":"10a","T1":0,"T3":0,"T5":0},{"m":"LDSD","g":3,"s":"10b","T1":0,"T3":0,"T5":0},{"m":"LDSD","g":3,"s":"11a","T1":7,"T3":6,"T5":6},{"m":"LDSD","g":3,"s":"11b","T1":5,"T3":5,"T5":4},{"m":"LDSD","g":3,"s":"12a","T1":1,"T3":1,"T5":1},{"m":"LDSD","g":3,"s":"12b","T1":0.5,"T3":0.5,"T5":0.5},{"m":"LDSD","g":3,"s":"13a","T1":2,"T3":2,"T5":2},{"m":"LDSD","g":3,"s":"13b","T1":1,"T3":1,"T5":1},
{"m":"LDSD","g":4,"s":"8a","T1":1,"T3":1,"T5":1},{"m":"LDSD","g":4,"s":"8b","T1":1,"T3":1,"T5":1},{"m":"LDSD","g":4,"s":"9a","T1":1,"T3":1,"T5":1},{"m":"LDSD","g":4,"s":"9b","T1":1,"T3":1,"T5":1},{"m":"LDSD","g":4,"s":"10a","T1":0,"T3":0,"T5":0},{"m":"LDSD","g":4,"s":"10b","T1":0,"T3":0,"T5":0},{"m":"LDSD","g":4,"s":"11a","T1":6,"T3":5,"T5":7},{"m":"LDSD","g":4,"s":"11b","T1":4,"T3":4,"T5":5},{"m":"LDSD","g":4,"s":"12a","T1":1,"T3":1,"T5":1},{"m":"LDSD","g":4,"s":"12b","T1":0.5,"T3":0.5,"T5":0.5},{"m":"LDSD","g":4,"s":"13a","T1":2,"T3":2,"T5":2},{"m":"LDSD","g":4,"s":"13b","T1":1,"T3":1,"T5":1},
{"m":"LDSD","g":5,"s":"8a","T1":2,"T3":8,"T5":19},{"m":"LDSD","g":5,"s":"8b","T1":2,"T3":6,"T5":16},{"m":"LDSD","g":5,"s":"9a","T1":3,"T3":8,"T5":17},{"m":"LDSD","g":5,"s":"9b","T1":2,"T3":6,"T5":14},{"m":"LDSD","g":5,"s":"10a","T1":0,"T3":0,"T5":0},{"m":"LDSD","g":5,"s":"10b","T1":0,"T3":0,"T5":0},{"m":"LDSD","g":5,"s":"11a","T1":6,"T3":7,"T5":8},{"m":"LDSD","g":5,"s":"11b","T1":4,"T3":5,"T5":6},{"m":"LDSD","g":5,"s":"12a","T1":1,"T3":2,"T5":3},{"m":"LDSD","g":5,"s":"12b","T1":1,"T3":1,"T5":2},{"m":"LDSD","g":5,"s":"13a","T1":4,"T3":5,"T5":10},{"m":"LDSD","g":5,"s":"13b","T1":3,"T3":4,"T5":8},
{"m":"LDSD","g":6,"s":"8a","T1":19,"T3":19,"T5":19},{"m":"LDSD","g":6,"s":"8b","T1":17,"T3":17,"T5":17},{"m":"LDSD","g":6,"s":"9a","T1":15,"T3":15,"T5":15},{"m":"LDSD","g":6,"s":"9b","T1":13,"T3":13,"T5":13},{"m":"LDSD","g":6,"s":"10a","T1":0,"T3":0,"T5":0},{"m":"LDSD","g":6,"s":"10b","T1":0,"T3":0,"T5":0},{"m":"LDSD","g":6,"s":"11a","T1":10,"T3":10,"T5":10},{"m":"LDSD","g":6,"s":"11b","T1":8,"T3":8,"T5":8},{"m":"LDSD","g":6,"s":"12a","T1":2,"T3":2,"T5":2},{"m":"LDSD","g":6,"s":"12b","T1":1,"T3":1,"T5":1},{"m":"LDSD","g":6,"s":"13a","T1":5,"T3":5,"T5":5},{"m":"LDSD","g":6,"s":"13b","T1":7,"T3":7,"T5":7},
{"m":"LDSD","g":7,"s":"8a","T1":20,"T3":14,"T5":18},{"m":"LDSD","g":7,"s":"8b","T1":15,"T3":12,"T5":16},{"m":"LDSD","g":7,"s":"9a","T1":17,"T3":10,"T5":19},{"m":"LDSD","g":7,"s":"9b","T1":12,"T3":8,"T5":15},{"m":"LDSD","g":7,"s":"10a","T1":0,"T3":0,"T5":0},{"m":"LDSD","g":7,"s":"10b","T1":0,"T3":0,"T5":0},{"m":"LDSD","g":7,"s":"11a","T1":12,"T3":10,"T5":14},{"m":"LDSD","g":7,"s":"11b","T1":10,"T3":8,"T5":12},{"m":"LDSD","g":7,"s":"12a","T1":3,"T3":2,"T5":3},{"m":"LDSD","g":7,"s":"12b","T1":2,"T3":1,"T5":2},{"m":"LDSD","g":7,"s":"13a","T1":6,"T3":4,"T5":8},{"m":"LDSD","g":7,"s":"13b","T1":5,"T3":3,"T5":6},
{"m":"LDSD","g":5,"s":"11a","t":"T3","v":2,"hi":14},{"m":"LDSD","g":7,"s":"9a","t":"T5","v":16,"hi":22},{"m":"LDSD","g":7,"s":"8a","t":"T1","v":17,"hi":23}
]
},
"vconcat":[
{"vconcat":[
{"hconcat":[
{"vconcat":[
{"data":{"name":"c1"},"transform":[{"filter":"datum.m=='SD'"}],
"title":{"text":"RPKM","anchor":"start","frame":"bounds","fontSize":16,"fontWeight":"normal","offset":-4},
"facet":{"column":{"field":"g","type":"ordinal","title":null,"header":null}},"spacing":{"column":24},
"spec":{"width":65,"height":130,
"encoding":{"x":{"field":"t","type":"ordinal","scale":{"type":"point","padding":0.45,"domain":["T1","T3","T5"]},"axis":{"title":null}},
"y":{"field":"v","type":"quantitative","scale":{"domain":[0,1200],"nice":false},"axis":{"title":"SD","format":"d","values":[0,300,600,900,1200],"labelExpr":"datum.value==0||datum.value==1200?datum.label:''"}},
"color":{"field":"s","type":"nominal","scale":{"domain":["4b","4a","3b","3a","2b","2a","1b","1a"],"range":["#2a6db3","#2a6db3","#e2a83a","#e2a83a","#58ad4b","#58ad4b","#e3262d","#e3262d"]},"legend":null}},
"layer":[
{"transform":[{"filter":"isValid(datum.hi)"}],"mark":{"type":"errorbar","ticks":true,"size":7,"thickness":1.5},"encoding":{"y2":{"field":"hi"},"color":{"value":"#555555"}}},
{"transform":[{"filter":"isValid(datum.T1)&&indexof(datum.s,'a')>0"},{"fold":["T1","T3","T5"],"as":["t","v"]}],"mark":{"type":"line","strokeWidth":2.5}},
{"transform":[{"filter":"isValid(datum.T1)&&indexof(datum.s,'b')>0"},{"fold":["T1","T3","T5"],"as":["t","v"]}],"mark":{"type":"line","strokeWidth":2.5,"strokeDash":[4,3]}},
{"transform":[{"filter":"isValid(datum.T1)&&indexof(datum.s,'a')>0"},{"fold":["T1","T3","T5"],"as":["t","v"]}],"mark":{"type":"point","shape":"circle","filled":true,"size":60,"opacity":1}},
{"transform":[{"filter":"isValid(datum.T1)&&indexof(datum.s,'b')>0"},{"fold":["T1","T3","T5"],"as":["t","v"]}],"mark":{"type":"point","shape":"triangle-up","filled":true,"size":70,"opacity":1}},
{"transform":[{"filter":"false"}],"mark":{"type":"point","filled":true,"opacity":1},
"encoding":{
"fill":{"field":"s","type":"nominal","scale":{"domain":["1a","1b","2a","2b","3a","3b","4a","4b"],"range":["#e3262d","#e3262d","#58ad4b","#58ad4b","#e2a83a","#e2a83a","#2a6db3","#2a6db3"]},"legend":{"orient":"none","legendX":118,"legendY":-13,"direction":"horizontal","columns":8,"title":null}},
"stroke":{"field":"s","type":"nominal","scale":{"domain":["1a","1b","2a","2b","3a","3b","4a","4b"],"range":["#e3262d","#e3262d","#58ad4b","#58ad4b","#e2a83a","#e2a83a","#2a6db3","#2a6db3"]},"legend":{"orient":"none","legendX":118,"legendY":-13,"direction":"horizontal","columns":8,"title":null}},
"shape":{"field":"s","type":"nominal","scale":{"domain":["1a","1b","2a","2b","3a","3b","4a","4b"],"range":["M-1,0H1M0.35,0A0.35,0.35,0,1,1,-0.35,0A0.35,0.35,0,1,1,0.35,0Z","M-1,0H-0.7M-0.5,0H-0.35M0.35,0H0.5M0.7,0H1M0,-0.42L0.38,0.28L-0.38,0.28Z","M-1,0H1M0.35,0A0.35,0.35,0,1,1,-0.35,0A0.35,0.35,0,1,1,0.35,0Z","M-1,0H-0.7M-0.5,0H-0.35M0.35,0H0.5M0.7,0H1M0,-0.42L0.38,0.28L-0.38,0.28Z","M-1,0H1M0.35,0A0.35,0.35,0,1,1,-0.35,0A0.35,0.35,0,1,1,0.35,0Z","M-1,0H-0.7M-0.5,0H-0.35M0.35,0H0.5M0.7,0H1M0,-0.42L0.38,0.28L-0.38,0.28Z","M-1,0H1M0.35,0A0.35,0.35,0,1,1,-0.35,0A0.35,0.35,0,1,1,0.35,0Z","M-1,0H-0.7M-0.5,0H-0.35M0.35,0H0.5M0.7,0H1M0,-0.42L0.38,0.28L-0.38,0.28Z"]},"legend":{"orient":"none","legendX":118,"legendY":-13,"direction":"horizontal","columns":8,"title":null}}}}
]}},
{"data":{"name":"c1"},"transform":[{"filter":"datum.m=='LD'"}],
"facet":{"column":{"field":"g","type":"ordinal","title":null,"header":null}},"spacing":{"column":24},
"spec":{"width":65,"height":51,
"encoding":{"x":{"field":"t","type":"ordinal","scale":{"type":"point","padding":0.45,"domain":["T1","T3","T5"]},"axis":{"title":null}},
"y":{"field":"v","type":"quantitative","scale":{"domain":[0,300],"nice":false},"axis":{"title":"LD","format":"d","values":[0,150,300],"labelExpr":"datum.value==0||datum.value==300?datum.label:''"}},
"color":{"field":"s","type":"nominal","scale":{"domain":["4b","4a","3b","3a","2b","2a","1b","1a"],"range":["#2a6db3","#2a6db3","#e2a83a","#e2a83a","#58ad4b","#58ad4b","#e3262d","#e3262d"]},"legend":null}},
"layer":[
{"transform":[{"filter":"isValid(datum.hi)"}],"mark":{"type":"errorbar","ticks":true,"size":7,"thickness":1.5},"encoding":{"y2":{"field":"hi"},"color":{"value":"#555555"}}},
{"transform":[{"filter":"isValid(datum.T1)&&indexof(datum.s,'a')>0"},{"fold":["T1","T3","T5"],"as":["t","v"]}],"mark":{"type":"line","strokeWidth":2.5}},
{"transform":[{"filter":"isValid(datum.T1)&&indexof(datum.s,'b')>0"},{"fold":["T1","T3","T5"],"as":["t","v"]}],"mark":{"type":"line","strokeWidth":2.5,"strokeDash":[4,3]}},
{"transform":[{"filter":"isValid(datum.T1)&&indexof(datum.s,'a')>0"},{"fold":["T1","T3","T5"],"as":["t","v"]}],"mark":{"type":"point","shape":"circle","filled":true,"size":60,"opacity":1}},
{"transform":[{"filter":"isValid(datum.T1)&&indexof(datum.s,'b')>0"},{"fold":["T1","T3","T5"],"as":["t","v"]}],"mark":{"type":"point","shape":"triangle-up","filled":true,"size":70,"opacity":1}}
]}},
{"data":{"name":"c1"},"transform":[{"filter":"datum.m=='LDSD'"}],
"facet":{"column":{"field":"g","type":"ordinal","title":null,"header":{"labelOrient":"bottom","labelAngle":-15,"labelAlign":"center","labelBaseline":"top","labelFontSize":14,"labelPadding":6,"labelLineHeight":16,"labelExpr":"[['Clark','(e1E2E3E4e5E7)'],['Williams 82'],['L65-3366','(E1E2E3E4e5E7)'],['L66-432','(e1e2E3E4e5E7)'],['L74-441','(e1E2e3E4e5E7)'],['L92-1195','(e1E2e3E4E5E7)'],['Glycine soja']][datum.value-1]"}}},"spacing":{"column":24},
"spec":{"width":65,"height":111,
"encoding":{"x":{"field":"t","type":"ordinal","scale":{"type":"point","padding":0.45,"domain":["T1","T3","T5"]},"axis":{"title":null}},
"y":{"field":"v","type":"quantitative","scale":{"domain":[0,1000],"nice":false},"axis":{"title":"LD - SD","format":"d","values":[0,250,500,750,1000],"labelExpr":"datum.value==0||datum.value==1000?datum.label:''"}},
"color":{"field":"s","type":"nominal","scale":{"domain":["4b","4a","3b","3a","2b","2a","1b","1a"],"range":["#2a6db3","#2a6db3","#e2a83a","#e2a83a","#58ad4b","#58ad4b","#e3262d","#e3262d"]},"legend":null}},
"layer":[
{"transform":[{"filter":"isValid(datum.hi)"}],"mark":{"type":"errorbar","ticks":true,"size":7,"thickness":1.5},"encoding":{"y2":{"field":"hi"},"color":{"value":"#555555"}}},
{"transform":[{"filter":"isValid(datum.T1)&&indexof(datum.s,'a')>0"},{"fold":["T1","T3","T5"],"as":["t","v"]}],"mark":{"type":"line","strokeWidth":2.5}},
{"transform":[{"filter":"isValid(datum.T1)&&indexof(datum.s,'b')>0"},{"fold":["T1","T3","T5"],"as":["t","v"]}],"mark":{"type":"line","strokeWidth":2.5,"strokeDash":[4,3]}},
{"transform":[{"filter":"isValid(datum.T1)&&indexof(datum.s,'a')>0"},{"fold":["T1","T3","T5"],"as":["t","v"]}],"mark":{"type":"point","shape":"circle","filled":true,"size":60,"opacity":1}},
{"transform":[{"filter":"isValid(datum.T1)&&indexof(datum.s,'b')>0"},{"fold":["T1","T3","T5"],"as":["t","v"]}],"mark":{"type":"point","shape":"triangle-up","filled":true,"size":70,"opacity":1}}
]}}
],"spacing":1,
"resolve":{"scale":{"x":"independent","y":"independent","color":"independent","fill":"independent","stroke":"independent","shape":"independent"},"legend":{"fill":"independent","stroke":"independent","shape":"independent","color":"independent"}}},
{"width":1,"height":372,"data":{"values":[{"v":0},{"v":1}]},"mark":{"type":"point","opacity":0},
"encoding":{"y":{"field":"v","type":"quantitative","axis":{"orient":"right","offset":0,"domainWidth":10,"domainColor":"black","ticks":false,"labels":false,"title":"Clade I","titleColor":"#e3262d","titleFont":"Liberation Serif","titleFontSize":22,"titleFontWeight":"normal","titlePadding":2,"titleAngle":90}}}}
],"spacing":0,
"resolve":{"scale":{"x":"independent","y":"independent","color":"independent","fill":"independent","stroke":"independent","shape":"independent"},"legend":{"fill":"independent","stroke":"independent","shape":"independent","color":"independent"}}},

{"hconcat":[
{"vconcat":[
{"data":{"name":"c2"},"transform":[{"filter":"datum.m=='SD'"}],
"title":{"text":"RPKM","anchor":"start","frame":"bounds","fontSize":16,"fontWeight":"normal","offset":0},
"facet":{"column":{"field":"g","type":"ordinal","title":null,"header":null}},"spacing":{"column":24},
"spec":{"width":65,"height":130,
"encoding":{"x":{"field":"t","type":"ordinal","scale":{"type":"point","padding":0.45,"domain":["T1","T3","T5"]},"axis":{"title":null}},
"y":{"field":"v","type":"quantitative","scale":{"domain":[0,200],"nice":false},"axis":{"title":"SD","format":"d","values":[0,50,100,150,200],"labelExpr":"datum.value==0||datum.value==200?datum.label:''"}},
"color":{"field":"s","type":"nominal","scale":{"domain":["7b","7a","6b","6a","5b","5a"],"range":["#e2a83a","#e2a83a","#2a6db3","#2a6db3","#e3262d","#e3262d"]},"legend":null}},
"layer":[
{"transform":[{"filter":"isValid(datum.hi)"}],"mark":{"type":"errorbar","ticks":true,"size":7,"thickness":1.5},"encoding":{"y2":{"field":"hi"},"color":{"value":"#555555"}}},
{"transform":[{"filter":"isValid(datum.T1)&&indexof(datum.s,'a')>0"},{"fold":["T1","T3","T5"],"as":["t","v"]}],"mark":{"type":"line","strokeWidth":2.5}},
{"transform":[{"filter":"isValid(datum.T1)&&indexof(datum.s,'b')>0"},{"fold":["T1","T3","T5"],"as":["t","v"]}],"mark":{"type":"line","strokeWidth":2.5,"strokeDash":[4,3]}},
{"transform":[{"filter":"isValid(datum.T1)&&indexof(datum.s,'a')>0"},{"fold":["T1","T3","T5"],"as":["t","v"]}],"mark":{"type":"point","shape":"circle","filled":true,"size":60,"opacity":1}},
{"transform":[{"filter":"isValid(datum.T1)&&indexof(datum.s,'b')>0"},{"fold":["T1","T3","T5"],"as":["t","v"]}],"mark":{"type":"point","shape":"triangle-up","filled":true,"size":70,"opacity":1}},
{"transform":[{"filter":"false"}],"mark":{"type":"point","filled":true,"opacity":1},
"encoding":{
"fill":{"field":"s","type":"nominal","scale":{"domain":["5a","5b","6a","6b","7a","7b"],"range":["#e3262d","#e3262d","#2a6db3","#2a6db3","#e2a83a","#e2a83a"]},"legend":{"orient":"none","legendX":168,"legendY":-9,"direction":"horizontal","columns":6,"title":null}},
"stroke":{"field":"s","type":"nominal","scale":{"domain":["5a","5b","6a","6b","7a","7b"],"range":["#e3262d","#e3262d","#2a6db3","#2a6db3","#e2a83a","#e2a83a"]},"legend":{"orient":"none","legendX":168,"legendY":-9,"direction":"horizontal","columns":6,"title":null}},
"shape":{"field":"s","type":"nominal","scale":{"domain":["5a","5b","6a","6b","7a","7b"],"range":["M-1,0H1M0.35,0A0.35,0.35,0,1,1,-0.35,0A0.35,0.35,0,1,1,0.35,0Z","M-1,0H-0.7M-0.5,0H-0.35M0.35,0H0.5M0.7,0H1M0,-0.42L0.38,0.28L-0.38,0.28Z","M-1,0H1M0.35,0A0.35,0.35,0,1,1,-0.35,0A0.35,0.35,0,1,1,0.35,0Z","M-1,0H-0.7M-0.5,0H-0.35M0.35,0H0.5M0.7,0H1M0,-0.42L0.38,0.28L-0.38,0.28Z","M-1,0H1M0.35,0A0.35,0.35,0,1,1,-0.35,0A0.35,0.35,0,1,1,0.35,0Z","M-1,0H-0.7M-0.5,0H-0.35M0.35,0H0.5M0.7,0H1M0,-0.42L0.38,0.28L-0.38,0.28Z"]},"legend":{"orient":"none","legendX":168,"legendY":-9,"direction":"horizontal","columns":6,"title":null}}}}
]}},
{"data":{"name":"c2"},"transform":[{"filter":"datum.m=='LD'"}],
"facet":{"column":{"field":"g","type":"ordinal","title":null,"header":null}},"spacing":{"column":24},
"spec":{"width":65,"height":64,
"encoding":{"x":{"field":"t","type":"ordinal","scale":{"type":"point","padding":0.45,"domain":["T1","T3","T5"]},"axis":{"title":null}},
"y":{"field":"v","type":"quantitative","scale":{"domain":[0,80],"nice":false},"axis":{"title":"LD","format":"d","values":[0,40,80],"labelExpr":"datum.value==0||datum.value==80?datum.label:''"}},
"color":{"field":"s","type":"nominal","scale":{"domain":["7b","7a","6b","6a","5b","5a"],"range":["#e2a83a","#e2a83a","#2a6db3","#2a6db3","#e3262d","#e3262d"]},"legend":null}},
"layer":[
{"transform":[{"filter":"isValid(datum.hi)"}],"mark":{"type":"errorbar","ticks":true,"size":7,"thickness":1.5},"encoding":{"y2":{"field":"hi"},"color":{"value":"#555555"}}},
{"transform":[{"filter":"isValid(datum.T1)&&indexof(datum.s,'a')>0"},{"fold":["T1","T3","T5"],"as":["t","v"]}],"mark":{"type":"line","strokeWidth":2.5}},
{"transform":[{"filter":"isValid(datum.T1)&&indexof(datum.s,'b')>0"},{"fold":["T1","T3","T5"],"as":["t","v"]}],"mark":{"type":"line","strokeWidth":2.5,"strokeDash":[4,3]}},
{"transform":[{"filter":"isValid(datum.T1)&&indexof(datum.s,'a')>0"},{"fold":["T1","T3","T5"],"as":["t","v"]}],"mark":{"type":"point","shape":"circle","filled":true,"size":60,"opacity":1}},
{"transform":[{"filter":"isValid(datum.T1)&&indexof(datum.s,'b')>0"},{"fold":["T1","T3","T5"],"as":["t","v"]}],"mark":{"type":"point","shape":"triangle-up","filled":true,"size":70,"opacity":1}}
]}},
{"data":{"name":"c2"},"transform":[{"filter":"datum.m=='LDSD'"}],
"title":{"text":" ","fontSize":10,"offset":0},
"facet":{"column":{"field":"g","type":"ordinal","title":null,"header":{"labelOrient":"bottom","labelAngle":-15,"labelAlign":"center","labelBaseline":"top","labelFontSize":14,"labelPadding":6,"labelLineHeight":16,"labelExpr":"[['Clark','(e1E2E3E4e5E7)'],['Williams 82'],['L65-3366','(E1E2E3E4e5E7)'],['L66-432','(e1E2E3E4e5E7)'],['L74-441','(e1E2e3E4e5E7)'],['L92-1195','(e1E2e3E4E5E7)'],['Glycine soja']][datum.value-1]"}}},"spacing":{"column":24},
"spec":{"width":65,"height":82,
"encoding":{"x":{"field":"t","type":"ordinal","scale":{"type":"point","padding":0.45,"domain":["T1","T3","T5"]},"axis":{"title":null}},
"y":{"field":"v","type":"quantitative","scale":{"domain":[0,120],"nice":false},"axis":{"title":"LD - SD","format":"d","values":[0,60,120]}},
"color":{"field":"s","type":"nominal","scale":{"domain":["7b","7a","6b","6a","5b","5a"],"range":["#e2a83a","#e2a83a","#2a6db3","#2a6db3","#e3262d","#e3262d"]},"legend":null}},
"layer":[
{"transform":[{"filter":"isValid(datum.hi)"}],"mark":{"type":"errorbar","ticks":true,"size":7,"thickness":1.5},"encoding":{"y2":{"field":"hi"},"color":{"value":"#555555"}}},
{"transform":[{"filter":"isValid(datum.T1)&&indexof(datum.s,'a')>0"},{"fold":["T1","T3","T5"],"as":["t","v"]}],"mark":{"type":"line","strokeWidth":2.5}},
{"transform":[{"filter":"isValid(datum.T1)&&indexof(datum.s,'b')>0"},{"fold":["T1","T3","T5"],"as":["t","v"]}],"mark":{"type":"line","strokeWidth":2.5,"strokeDash":[4,3]}},
{"transform":[{"filter":"isValid(datum.T1)&&indexof(datum.s,'a')>0"},{"fold":["T1","T3","T5"],"as":["t","v"]}],"mark":{"type":"point","shape":"circle","filled":true,"size":60,"opacity":1}},
{"transform":[{"filter":"isValid(datum.T1)&&indexof(datum.s,'b')>0"},{"fold":["T1","T3","T5"],"as":["t","v"]}],"mark":{"type":"point","shape":"triangle-up","filled":true,"size":70,"opacity":1}}
]}}
],"spacing":1,
"resolve":{"scale":{"x":"independent","y":"independent","color":"independent","fill":"independent","stroke":"independent","shape":"independent"},"legend":{"fill":"independent","stroke":"independent","shape":"independent","color":"independent"}}},
{"width":1,"height":366,"data":{"values":[{"v":0},{"v":1}]},"mark":{"type":"point","opacity":0},
"encoding":{"y":{"field":"v","type":"quantitative","axis":{"orient":"right","offset":0,"domainWidth":10,"domainColor":"black","ticks":false,"labels":false,"title":"Clade II","titleColor":"#e2a83a","titleFont":"Liberation Serif","titleFontSize":22,"titleFontWeight":"normal","titlePadding":2,"titleAngle":90}}}}
],"spacing":0,
"resolve":{"scale":{"x":"independent","y":"independent","color":"independent","fill":"independent","stroke":"independent","shape":"independent"},"legend":{"fill":"independent","stroke":"independent","shape":"independent","color":"independent"}}}
],"spacing":14,
"resolve":{"scale":{"x":"independent","y":"independent","color":"independent","fill":"independent","stroke":"independent","shape":"independent"},"legend":{"fill":"independent","stroke":"independent","shape":"independent","color":"independent"}}},

{"hconcat":[
{"vconcat":[
{"data":{"name":"c3"},"transform":[{"filter":"datum.m=='SD'"}],
"title":{"text":"RPKM","anchor":"start","frame":"bounds","fontSize":16,"fontWeight":"normal","offset":-15},
"facet":{"column":{"field":"g","type":"ordinal","title":null,"header":null}},"spacing":{"column":24},
"spec":{"width":65,"height":58,
"encoding":{"x":{"field":"t","type":"ordinal","scale":{"type":"point","padding":0.45,"domain":["T1","T3","T5"]},"axis":{"title":null}},
"y":{"field":"v","type":"quantitative","scale":{"domain":[0,28],"nice":false},"axis":{"title":"SD","format":"d","values":[0,14,28],"labelExpr":"datum.value==0||datum.value==28?datum.label:''"}},
"color":{"field":"s","type":"nominal","scale":{"domain":["13b","13a","12b","12a","11b","11a","10b","10a","9b","9a","8b","8a"],"range":["#2a6db3","#2a6db3","#e2a83a","#e2a83a","#e3262d","#e3262d","#9c6b30","#9c6b30","#58ad4b","#58ad4b","#9b5fb5","#9b5fb5"]},"legend":null}},
"layer":[
{"transform":[{"filter":"isValid(datum.hi)"}],"mark":{"type":"errorbar","ticks":true,"size":7,"thickness":1.5},"encoding":{"y2":{"field":"hi"},"color":{"value":"#555555"}}},
{"transform":[{"filter":"isValid(datum.T1)&&indexof(datum.s,'a')>0"},{"fold":["T1","T3","T5"],"as":["t","v"]}],"mark":{"type":"line","strokeWidth":2.5}},
{"transform":[{"filter":"isValid(datum.T1)&&indexof(datum.s,'b')>0"},{"fold":["T1","T3","T5"],"as":["t","v"]}],"mark":{"type":"line","strokeWidth":2.5,"strokeDash":[4,3]}},
{"transform":[{"filter":"isValid(datum.T1)&&indexof(datum.s,'a')>0"},{"fold":["T1","T3","T5"],"as":["t","v"]}],"mark":{"type":"point","shape":"circle","filled":true,"size":60,"opacity":1}},
{"transform":[{"filter":"isValid(datum.T1)&&indexof(datum.s,'b')>0"},{"fold":["T1","T3","T5"],"as":["t","v"]}],"mark":{"type":"point","shape":"triangle-up","filled":true,"size":70,"opacity":1}},
{"transform":[{"filter":"false"}],"mark":{"type":"point","filled":true,"opacity":1},
"encoding":{
"fill":{"field":"s","type":"nominal","scale":{"domain":["8a","8b","9a","9b","10a","10b","11a","11b","12a","12b","13a","13b"],"range":["#9b5fb5","#9b5fb5","#58ad4b","#58ad4b","#9c6b30","#9c6b30","#e3262d","#e3262d","#e2a83a","#e2a83a","#2a6db3","#2a6db3"]},"legend":{"orient":"none","legendX":-4,"legendY":-25,"direction":"horizontal","columns":12,"title":null,"symbolSize":196,"columnPadding":2,"labelFontSize":12,"labelOffset":1}},
"stroke":{"field":"s","type":"nominal","scale":{"domain":["8a","8b","9a","9b","10a","10b","11a","11b","12a","12b","13a","13b"],"range":["#9b5fb5","#9b5fb5","#58ad4b","#58ad4b","#9c6b30","#9c6b30","#e3262d","#e3262d","#e2a83a","#e2a83a","#2a6db3","#2a6db3"]},"legend":{"orient":"none","legendX":-4,"legendY":-25,"direction":"horizontal","columns":12,"title":null,"symbolSize":196,"columnPadding":2,"labelFontSize":12,"labelOffset":1}},
"shape":{"field":"s","type":"nominal","scale":{"domain":["8a","8b","9a","9b","10a","10b","11a","11b","12a","12b","13a","13b"],"range":["M-1,0H1M0.35,0A0.35,0.35,0,1,1,-0.35,0A0.35,0.35,0,1,1,0.35,0Z","M-1,0H-0.7M-0.5,0H-0.35M0.35,0H0.5M0.7,0H1M0,-0.42L0.38,0.28L-0.38,0.28Z","M-1,0H1M0.35,0A0.35,0.35,0,1,1,-0.35,0A0.35,0.35,0,1,1,0.35,0Z","M-1,0H-0.7M-0.5,0H-0.35M0.35,0H0.5M0.7,0H1M0,-0.42L0.38,0.28L-0.38,0.28Z","M-1,0H1M0.35,0A0.35,0.35,0,1,1,-0.35,0A0.35,0.35,0,1,1,0.35,0Z","M-1,0H-0.7M-0.5,0H-0.35M0.35,0H0.5M0.7,0H1M0,-0.42L0.38,0.28L-0.38,0.28Z","M-1,0H1M0.35,0A0.35,0.35,0,1,1,-0.35,0A0.35,0.35,0,1,1,0.35,0Z","M-1,0H-0.7M-0.5,0H-0.35M0.35,0H0.5M0.7,0H1M0,-0.42L0.38,0.28L-0.38,0.28Z","M-1,0H1M0.35,0A0.35,0.35,0,1,1,-0.35,0A0.35,0.35,0,1,1,0.35,0Z","M-1,0H-0.7M-0.5,0H-0.35M0.35,0H0.5M0.7,0H1M0,-0.42L0.38,0.28L-0.38,0.28Z","M-1,0H1M0.35,0A0.35,0.35,0,1,1,-0.35,0A0.35,0.35,0,1,1,0.35,0Z","M-1,0H-0.7M-0.5,0H-0.35M0.35,0H0.5M0.7,0H1M0,-0.42L0.38,0.28L-0.38,0.28Z"]},"legend":{"orient":"none","legendX":-4,"legendY":-25,"direction":"horizontal","columns":12,"title":null,"symbolSize":196,"columnPadding":2,"labelFontSize":12,"labelOffset":1}}}}
]}},
{"data":{"name":"c3"},"transform":[{"filter":"datum.m=='LD'"}],
"facet":{"column":{"field":"g","type":"ordinal","title":null,"header":null}},"spacing":{"column":24},
"spec":{"width":65,"height":53,
"encoding":{"x":{"field":"t","type":"ordinal","scale":{"type":"point","padding":0.45,"domain":["T1","T3","T5"]},"axis":{"title":null}},
"y":{"field":"v","type":"quantitative","scale":{"domain":[0,32],"nice":false},"axis":{"title":"LD","format":"d","values":[0,16,32],"labelExpr":"datum.value==0||datum.value==32?datum.label:''"}},
"color":{"field":"s","type":"nominal","scale":{"domain":["13b","13a","12b","12a","11b","11a","10b","10a","9b","9a","8b","8a"],"range":["#2a6db3","#2a6db3","#e2a83a","#e2a83a","#e3262d","#e3262d","#9c6b30","#9c6b30","#58ad4b","#58ad4b","#9b5fb5","#9b5fb5"]},"legend":null}},
"layer":[
{"transform":[{"filter":"isValid(datum.hi)"}],"mark":{"type":"errorbar","ticks":true,"size":7,"thickness":1.5},"encoding":{"y2":{"field":"hi"},"color":{"value":"#555555"}}},
{"transform":[{"filter":"isValid(datum.T1)&&indexof(datum.s,'a')>0"},{"fold":["T1","T3","T5"],"as":["t","v"]}],"mark":{"type":"line","strokeWidth":2.5}},
{"transform":[{"filter":"isValid(datum.T1)&&indexof(datum.s,'b')>0"},{"fold":["T1","T3","T5"],"as":["t","v"]}],"mark":{"type":"line","strokeWidth":2.5,"strokeDash":[4,3]}},
{"transform":[{"filter":"isValid(datum.T1)&&indexof(datum.s,'a')>0"},{"fold":["T1","T3","T5"],"as":["t","v"]}],"mark":{"type":"point","shape":"circle","filled":true,"size":60,"opacity":1}},
{"transform":[{"filter":"isValid(datum.T1)&&indexof(datum.s,'b')>0"},{"fold":["T1","T3","T5"],"as":["t","v"]}],"mark":{"type":"point","shape":"triangle-up","filled":true,"size":70,"opacity":1}}
]}},
{"data":{"name":"c3"},"transform":[{"filter":"datum.m=='LDSD'"}],
"title":{"text":" ","fontSize":20,"offset":4},
"facet":{"column":{"field":"g","type":"ordinal","title":null,"header":{"labelOrient":"bottom","labelAngle":-15,"labelAlign":"center","labelBaseline":"top","labelFontSize":14,"labelPadding":6,"labelLineHeight":16,"labelExpr":"[['Clark','(e1E2E3E4e5E7)'],['Williams 82'],['L65-3366','(E1E2E3E4e5E7)'],['L66-432','(e1E2E3E4e5E7)'],['L74-441','(e1E2e3E4e5E7)'],['L92-1195','(e1E2e3E4E5E7)'],['Glycine soja']][datum.value-1]"}}},"spacing":{"column":24},
"spec":{"width":65,"height":32,
"encoding":{"x":{"field":"t","type":"ordinal","scale":{"type":"point","padding":0.45,"domain":["T1","T3","T5"]},"axis":{"title":null}},
"y":{"field":"v","type":"quantitative","scale":{"domain":[0,26],"nice":false},"axis":{"title":"LD - SD","format":"d","values":[0,13,26],"labelExpr":"datum.value==0||datum.value==26?datum.label:''"}},
"color":{"field":"s","type":"nominal","scale":{"domain":["13b","13a","12b","12a","11b","11a","10b","10a","9b","9a","8b","8a"],"range":["#2a6db3","#2a6db3","#e2a83a","#e2a83a","#e3262d","#e3262d","#9c6b30","#9c6b30","#58ad4b","#58ad4b","#9b5fb5","#9b5fb5"]},"legend":null}},
"layer":[
{"transform":[{"filter":"isValid(datum.hi)"}],"mark":{"type":"errorbar","ticks":true,"size":7,"thickness":1.5},"encoding":{"y2":{"field":"hi"},"color":{"value":"#555555"}}},
{"transform":[{"filter":"isValid(datum.T1)&&indexof(datum.s,'a')>0"},{"fold":["T1","T3","T5"],"as":["t","v"]}],"mark":{"type":"line","strokeWidth":2.5}},
{"transform":[{"filter":"isValid(datum.T1)&&indexof(datum.s,'b')>0"},{"fold":["T1","T3","T5"],"as":["t","v"]}],"mark":{"type":"line","strokeWidth":2.5,"strokeDash":[4,3]}},
{"transform":[{"filter":"isValid(datum.T1)&&indexof(datum.s,'a')>0"},{"fold":["T1","T3","T5"],"as":["t","v"]}],"mark":{"type":"point","shape":"circle","filled":true,"size":60,"opacity":1}},
{"transform":[{"filter":"isValid(datum.T1)&&indexof(datum.s,'b')>0"},{"fold":["T1","T3","T5"],"as":["t","v"]}],"mark":{"type":"point","shape":"triangle-up","filled":true,"size":70,"opacity":1}}
]}}
],"spacing":1,
"resolve":{"scale":{"x":"independent","y":"independent","color":"independent","fill":"independent","stroke":"independent","shape":"independent"},"legend":{"fill":"independent","stroke":"independent","shape":"independent","color":"independent"}}},
{"width":1,"height":269,"data":{"values":[{"v":0},{"v":1}]},"mark":{"type":"point","opacity":0},
"encoding":{"y":{"field":"v","type":"quantitative","axis":{"orient":"right","offset":0,"domainWidth":10,"domainColor":"black","ticks":false,"labels":false,"title":"Clade III","titleColor":"#2a6db3","titleFont":"Liberation Serif","titleFontSize":22,"titleFontWeight":"normal","titlePadding":2,"titleAngle":90}}}}
],"spacing":0,
"resolve":{"scale":{"x":"independent","y":"independent","color":"independent","fill":"independent","stroke":"independent","shape":"independent"},"legend":{"fill":"independent","stroke":"independent","shape":"independent","color":"independent"}}}
],
"spacing":29,
"resolve":{"scale":{"x":"independent","y":"independent","color":"independent","fill":"independent","stroke":"independent","shape":"independent"},"legend":{"fill":"independent","stroke":"independent","shape":"independent","color":"independent"}},
"config":{
"font":"Liberation Sans",
"view":{"stroke":null},
"axis":{"grid":false,"labelColor":"black","titleColor":"black","labelFont":"Liberation Sans","titleFont":"Liberation Sans"},
"axisY":{"offset":12,"domainColor":"black","domainWidth":2,"tickColor":"black","tickWidth":2,"tickSize":6,"labelFontSize":11,"labelPadding":3,"titleFontSize":15,"titleFontWeight":"normal","titlePadding":4},
"axisX":{"offset":12,"domainColor":"#444444","domainWidth":5,"ticks":false,"labelFontSize":13,"labelPadding":4,"labelAngle":0},
"legend":{"strokeColor":"black","padding":2,"labelFontSize":13,"labelFontWeight":"bold","labelColor":"black","symbolSize":400,"symbolStrokeWidth":2,"columnPadding":2,"labelOffset":3},
"title":{"color":"black","font":"Liberation Sans"}
}
}
